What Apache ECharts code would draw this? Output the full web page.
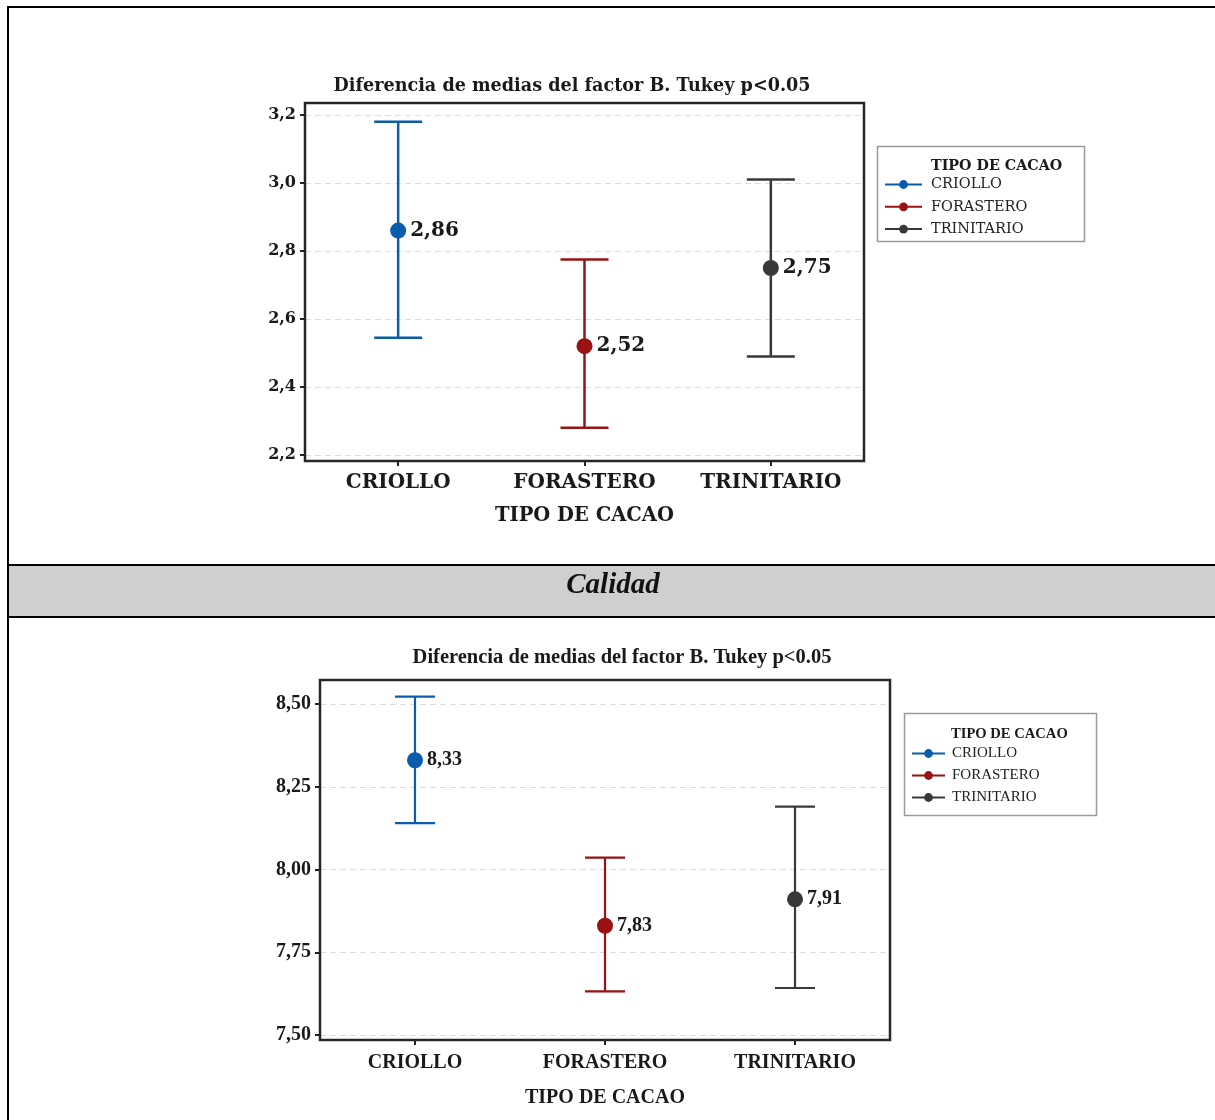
<!DOCTYPE html>
<html>
<head>
<meta charset="utf-8">
<script src="https://cdn.jsdelivr.net/npm/echarts@6/dist/echarts.min.js"></script>
<style>
html,body{margin:0;padding:0;background:#fff;}
#c{width:1215px;height:1120px;}
</style>
</head>
<body>
<div id="c"></div>
<script>
// ---- data ----
const categories = ['CRIOLLO', 'FORASTERO', 'TRINITARIO'];
const legendTitle = 'TIPO DE CACAO';
const chartTitle = 'Diferencia de medias del factor B. Tukey p<0.05';
const sectionLabel = 'Calidad';

// top chart
const topMeans = [2.86, 2.52, 2.75];
const topLow = [2.545, 2.28, 2.49];
const topHigh = [3.18, 2.775, 3.01];
const topTicks = [2.2, 2.4, 2.6, 2.8, 3.0, 3.2];

// bottom chart (Calidad)
const botMeans = [8.33, 7.83, 7.91];
const botLow = [8.14, 7.632, 7.642];
const botHigh = [8.522, 8.036, 8.19];
const botTicks = [7.50, 7.75, 8.00, 8.25, 8.50];

const colors = ['#0b5cad', '#9a1212', '#383838'];

const fmt = (v, d) => v.toFixed(d).replace('.', ',');

const TOPFONT = 'DejaVu Serif';
const BOTFONT = 'Liberation Serif';

function errRender(capW, lw) {
  return function (params, api) {
    const x = api.value(0);
    const lo = api.coord([x, api.value(1)]);
    const hi = api.coord([x, api.value(2)]);
    const style = { stroke: api.visual('color'), lineWidth: lw };
    return {
      type: 'group',
      children: [
        { type: 'line', shape: { x1: lo[0], y1: lo[1], x2: hi[0], y2: hi[1] }, style },
        { type: 'line', shape: { x1: hi[0] - capW / 2, y1: hi[1], x2: hi[0] + capW / 2, y2: hi[1] }, style },
        { type: 'line', shape: { x1: lo[0] - capW / 2, y1: lo[1], x2: lo[0] + capW / 2, y2: lo[1] }, style }
      ]
    };
  };
}

function buildSeries(gi, means, lows, highs, dec, font, labelSize, capW, lw) {
  const out = [];
  categories.forEach((name, i) => {
    const d = categories.map((c, j) => (j === i ? means[j] : '-'));
    out.push({
      type: 'line', name: name, xAxisIndex: gi, yAxisIndex: gi,
      data: d, symbol: 'circle', symbolSize: 16, z: 5,
      itemStyle: { color: colors[i] },
      lineStyle: { color: colors[i], width: 2.5 },
      label: {
        show: true, position: 'right', distance: 4,
        formatter: p => fmt(p.value, 2),
        fontFamily: font, fontWeight: 'bold', fontSize: labelSize, color: '#1a1a1a'
      }
    });
  });
  categories.forEach((name, i) => {
    out.push({
      type: 'custom', name: name + ' IC', xAxisIndex: gi, yAxisIndex: gi,
      itemStyle: { color: colors[i] },
      renderItem: errRender(capW, lw),
      encode: { x: 0, y: [1, 2] },
      data: [[i, lows[i], highs[i]]],
      z: 3
    });
  });
  return out;
}

const grids = [
  { left: 305, top: 115, width: 559, height: 340 },
  { left: 320, top: 704, width: 570, height: 331 }
];

function xAxis(gi, font, labelSize, nameSize, offset, nameGap, margin) {
  return {
    type: 'category', gridIndex: gi, data: categories, offset: offset,
    axisLine: { show: false },
    axisTick: { show: true, alignWithLabel: true, length: 5, lineStyle: { color: '#222', width: 2 } },
    axisLabel: { margin: margin, fontFamily: font, fontWeight: 'bold', fontSize: labelSize, color: '#1a1a1a' },
    name: legendTitle, nameLocation: 'middle', nameGap: nameGap,
    nameTextStyle: { fontFamily: font, fontWeight: 'bold', fontSize: nameSize, color: '#1a1a1a' }
  };
}
function yAxis(gi, font, size, ticks, dec) {
  return {
    type: 'value', gridIndex: gi,
    min: ticks[0], max: ticks[ticks.length - 1], interval: ticks[1] - ticks[0],
    axisLine: { show: false },
    axisTick: { show: true, length: 5, lineStyle: { color: '#222', width: 2 } },
    axisLabel: { margin: 9, padding: [4, 0, 0, 0], fontFamily: font, fontWeight: 'bold', fontSize: size, color: '#1a1a1a', formatter: v => fmt(v, dec) },
    splitLine: { show: true, lineStyle: { color: '#dcdcdc', width: 1, type: [6, 4] } }
  };
}

const graphic = [
  // outer frame
  { type: 'line', shape: { x1: 8, y1: 6, x2: 8, y2: 1120 }, style: { stroke: '#000', lineWidth: 2 }, z: 10 },
  { type: 'line', shape: { x1: 7, y1: 7, x2: 1215, y2: 7 }, style: { stroke: '#000', lineWidth: 2 }, z: 10 },
  // band
  { type: 'rect', shape: { x: 8, y: 565, width: 1207, height: 52 }, style: { fill: '#d0cece' }, z: 1 },
  { type: 'line', shape: { x1: 7, y1: 565, x2: 1215, y2: 565 }, style: { stroke: '#000', lineWidth: 2 }, z: 10 },
  { type: 'line', shape: { x1: 7, y1: 617, x2: 1215, y2: 617 }, style: { stroke: '#000', lineWidth: 2 }, z: 10 },
  { type: 'text', x: 613, y: 586, style: { text: sectionLabel, fill: '#111', font: 'italic bold 29px "Liberation Serif"', textAlign: 'center', textVerticalAlign: 'middle' }, z: 10 },
  // titles
  { type: 'text', x: 572, y: 86, style: { text: chartTitle, fill: '#1a1a1a', font: 'bold 17.6px "DejaVu Serif"', textAlign: 'center', textVerticalAlign: 'middle' }, z: 10 },
  { type: 'text', x: 622, y: 658, style: { text: chartTitle, fill: '#1a1a1a', font: 'bold 20.5px "Liberation Serif"', textAlign: 'center', textVerticalAlign: 'middle' }, z: 10 },
  // plot boxes
  { type: 'rect', shape: { x: 305, y: 103, width: 559, height: 358 }, style: { fill: null, stroke: '#262626', lineWidth: 2.5 }, z: 8 },
  { type: 'rect', shape: { x: 320, y: 680, width: 570, height: 360 }, style: { fill: null, stroke: '#262626', lineWidth: 2.5 }, z: 8 },
  // legend boxes
  { type: 'rect', shape: { x: 877.5, y: 146.5, width: 207, height: 95 }, style: { fill: '#fff', stroke: '#9a9a9a', lineWidth: 1.5 }, z: 2 },
  { type: 'text', x: 931, y: 166, style: { text: legendTitle, fill: '#1a1a1a', font: 'bold 14.3px "DejaVu Serif"', textAlign: 'left', textVerticalAlign: 'middle' }, z: 10 },
  { type: 'rect', shape: { x: 904.5, y: 713.5, width: 192, height: 102 }, style: { fill: '#fff', stroke: '#9a9a9a', lineWidth: 1.5 }, z: 2 },
  { type: 'text', x: 951, y: 734, style: { text: legendTitle, fill: '#1a1a1a', font: 'bold 14.6px "Liberation Serif"', textAlign: 'left', textVerticalAlign: 'middle' }, z: 10 }
];

const option = {
  backgroundColor: '#fff',
  animation: false,
  grid: grids,
  xAxis: [xAxis(0, TOPFONT, 20, 19.5, 6, 45, 12), xAxis(1, BOTFONT, 20, 20, 5, 48, 13)],
  yAxis: [yAxis(0, TOPFONT, 16, topTicks, 1), yAxis(1, BOTFONT, 20, botTicks, 2)],
  legend: [
    {
      data: categories, orient: 'vertical', left: 884, top: 177,
      itemWidth: 37, itemHeight: 11, itemGap: 7.3, padding: 0,
      textStyle: { fontFamily: TOPFONT, fontSize: 14.5, color: '#222', padding: [0, 0, 0, 4] },
      selectedMode: false, z: 10
    },
    {
      data: categories, orient: 'vertical', left: 911, top: 746,
      itemWidth: 33, itemHeight: 11, itemGap: 7, padding: 0,
      textStyle: { fontFamily: BOTFONT, fontSize: 15, color: '#222', padding: [0, 0, 0, 2] },
      selectedMode: false, z: 10
    }
  ],
  graphic: graphic,
  series: [].concat(
    buildSeries(0, topMeans, topLow, topHigh, 2, TOPFONT, 20, 48, 2.5),
    buildSeries(1, botMeans, botLow, botHigh, 2, BOTFONT, 20, 40, 2.2)
  )
};

const chart = echarts.init(document.getElementById('c'), null, { renderer: 'canvas' });
chart.setOption(option);
</script>
</body>
</html>
